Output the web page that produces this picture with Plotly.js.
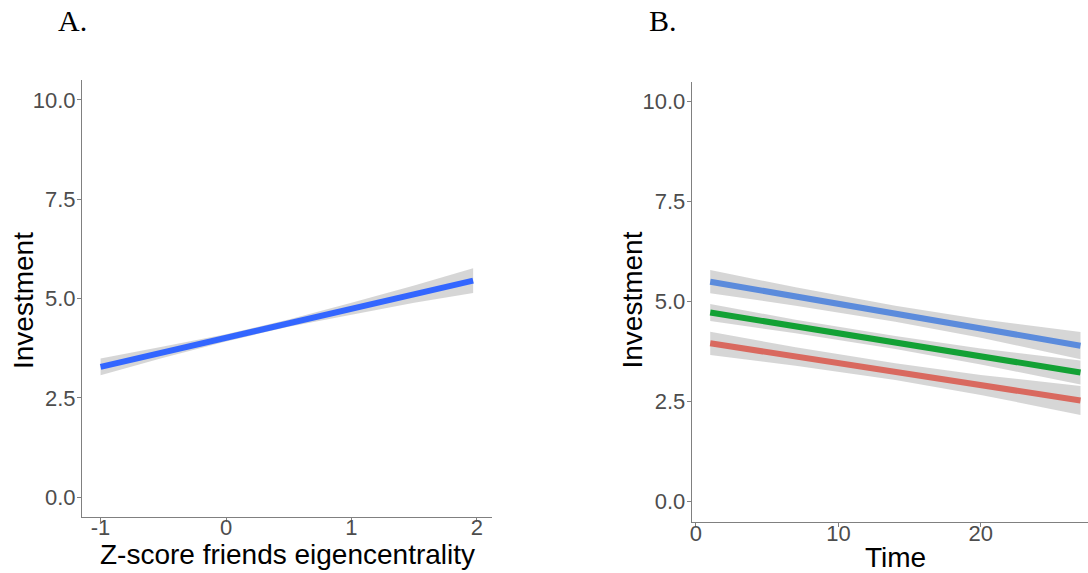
<!DOCTYPE html>
<html>
<head>
<meta charset="utf-8">
<script src="https://cdn.plot.ly/plotly-3.0.1.min.js"></script>
<style>
html, body { margin: 0; padding: 0; overflow: hidden; background: #fff; }
#chart { width: 1100px; height: 573px; }
</style>
</head>
<body>
<div id="chart"></div>
<script>
// ---- Panel A data: investment vs Z-score friends eigencentrality ----
const eigenX   = [-1, -0.5, 0, 0.5, 1, 1.5, 1.97];
const eigenFit = [3.28, 3.65, 4.01, 4.38, 4.74, 5.11, 5.45];
const eigenLo  = [3.07, 3.51, 3.92, 4.29, 4.59, 4.89, 5.14];
const eigenHi  = [3.49, 3.79, 4.10, 4.47, 4.89, 5.33, 5.76];

// ---- Panel B data: investment vs time, three groups ----
const timeX    = [1, 7, 14, 20, 27];
const blueFit  = [5.50, 5.13, 4.70, 4.33, 3.90];
const blueLo   = [5.21, 4.90, 4.50, 4.10, 3.56];
const blueHi   = [5.79, 5.36, 4.90, 4.56, 4.24];
const greenFit = [4.73, 4.38, 3.98, 3.63, 3.23];
const greenLo  = [4.52, 4.21, 3.82, 3.43, 2.93];
const greenHi  = [4.94, 4.55, 4.14, 3.83, 3.53];
const redFit   = [3.96, 3.63, 3.25, 2.92, 2.53];
const redLo    = [3.67, 3.40, 3.04, 2.67, 2.17];
const redHi    = [4.25, 3.86, 3.46, 3.17, 2.89];

// ---- tick labels ----
const yTickVals = [0, 2.5, 5, 7.5, 10];
const yTickText = ["0.0", "2.5", "5.0", "7.5", "10.0"];
const xATickVals = [-1, 0, 1, 2];
const xATickText = ["-1", "0", "1", "2"];
const xBTickVals = [0, 10, 20];
const xBTickText = ["0", "10", "20"];

const panelLabels = ["A.", "B."];
const yTitle = "Investment";
const xATitle = "Z-score friends eigencentrality";
const xBTitle = "Time";

const bandColor = "rgba(153,153,153,0.4)";
const W = 1100, H = 573;

function band(x, lo, hi, xa, ya) {
  return {
    x: x.concat(x.slice().reverse()),
    y: lo.concat(hi.slice().reverse()),
    xaxis: xa, yaxis: ya,
    type: "scatter", mode: "lines", fill: "toself",
    fillcolor: bandColor, line: { width: 0, color: bandColor },
    hoverinfo: "skip", showlegend: false
  };
}
function fitLine(x, y, color, xa, ya) {
  return {
    x: x, y: y, xaxis: xa, yaxis: ya,
    type: "scatter", mode: "lines",
    line: { color: color, width: 6 },
    showlegend: false
  };
}

const traces = [
  band(eigenX, eigenLo, eigenHi, "x", "y"),
  fitLine(eigenX, eigenFit, "#3366FF", "x", "y"),
  band(timeX, blueLo, blueHi, "x2", "y2"),
  fitLine(timeX, blueFit, "#5B8BDC", "x2", "y2"),
  band(timeX, greenLo, greenHi, "x2", "y2"),
  fitLine(timeX, greenFit, "#13A135", "x2", "y2"),
  band(timeX, redLo, redHi, "x2", "y2"),
  fitLine(timeX, redFit, "#D9695F", "x2", "y2")
];

const sans = "Liberation Sans, Arial, sans-serif";
const tickFont = { family: sans, size: 22, color: "#4D4D4D" };
const titleFont = { family: sans, size: 28, color: "#000000" };
const labelFont = { family: "Liberation Serif, Times New Roman, serif", size: 30, color: "#000" };

function axisBase() {
  return {
    showgrid: false, zeroline: false, showline: true,
    linecolor: "#808080", linewidth: 1,
    ticks: "outside", ticklen: 4, tickcolor: "#808080", tickwidth: 1,
    tickfont: tickFont, tickmode: "array", fixedrange: true
  };
}

function ann(text, px, py, font, angle) {
  return { text: text, xref: "paper", yref: "paper", x: px / W, y: 1 - py / H,
    xanchor: "center", yanchor: "middle", showarrow: false, font: font,
    textangle: angle || 0 };
}

const layout = {
  width: W, height: H,
  margin: { l: 0, r: 0, t: 0, b: 0, pad: 0 },
  paper_bgcolor: "#ffffff", plot_bgcolor: "#ffffff",
  showlegend: false,
  xaxis: Object.assign(axisBase(), {
    domain: [82 / W, 491.7 / W], range: [-1.148, 2.118],
    tickvals: xATickVals, ticktext: xATickText, anchor: "y",
    ticklabelstandoff: -13
  }),
  yaxis: Object.assign(axisBase(), {
    domain: [1 - 517 / H, 1 - 80 / H], range: [-0.5, 10.5],
    tickvals: yTickVals, ticktext: yTickText, anchor: "x",
    ticklabelstandoff: -3
  }),
  xaxis2: Object.assign(axisBase(), {
    domain: [691.7 / W, 1099 / W], range: [-0.3, 28.3],
    tickvals: xBTickVals, ticktext: xBTickText, anchor: "y2",
    ticklabelstandoff: -12
  }),
  yaxis2: Object.assign(axisBase(), {
    domain: [1 - 521.7 / H, 1 - 81.7 / H], range: [-0.5, 10.5],
    tickvals: yTickVals, ticktext: yTickText, anchor: "x2",
    ticklabelstandoff: -3
  }),
  annotations: [
    Object.assign(ann(panelLabels[0], 56, 20, labelFont), { xanchor: "left" }),
    Object.assign(ann(panelLabels[1], 647, 20, labelFont), { xanchor: "left" }),
    ann(xATitle, 287, 554, titleFont),
    ann(xBTitle, 895, 557, titleFont),
    ann(yTitle, 23, 301, titleFont, -90),
    ann(yTitle, 632, 300.5, titleFont, -90)
  ]
};

Plotly.newPlot("chart", traces, layout, { displayModeBar: false, staticPlot: true });
</script>
</body>
</html>
